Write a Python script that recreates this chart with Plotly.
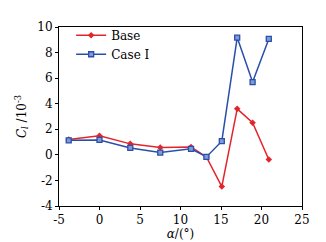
import plotly.graph_objects as go

alpha = [-3.8, 0, 3.8, 7.5, 11.3, 13.2, 15.1, 17.0, 18.9, 20.9]
base = [1.2, 1.5, 0.86, 0.57, 0.62, -0.16, -2.48, 3.6, 2.52, -0.36]
case1 = [1.14, 1.17, 0.54, 0.18, 0.47, -0.16, 1.07, 9.17, 5.69, 9.07]

xticks = [-5, 0, 5, 10, 15, 20, 25]
yticks = [-4, -2, 0, 2, 4, 6, 8, 10]

red = "#e3242b"
blue = "#2a4fa8"
font = "DejaVu Serif"

fig = go.Figure()
fig.add_trace(go.Scatter(x=alpha, y=base, mode="lines+markers", name="Base",
                         line=dict(color=red, width=1.5),
                         marker=dict(symbol="diamond", size=5, color=red)))
fig.add_trace(go.Scatter(x=alpha, y=case1, mode="lines+markers", name="Case I",
                         line=dict(color=blue, width=1.5),
                         marker=dict(symbol="square", size=5, color="#7f9ad8",
                                     line=dict(color=blue, width=1.3))))

axis_common = dict(showgrid=False, zeroline=False, showline=True, linecolor="black",
                   linewidth=1, mirror=True, ticks="outside", ticklen=3,
                   tickcolor="black", tickfont=dict(family=font, size=12, color="black"))
fig.update_xaxes(range=[-5, 25], tickvals=xticks, ticktext=[str(v) for v in xticks],
                 title=dict(text="<i>α</i>/(°)", font=dict(family=font, size=12, color="black"),
                            standoff=2), **axis_common)
fig.update_yaxes(range=[-4, 10], tickvals=yticks, ticktext=[str(v) for v in yticks],
                 title=dict(text="<i>C</i><sub><i>l</i></sub> /10<sup>-3</sup>",
                            font=dict(family=font, size=12, color="black"), standoff=8),
                 **axis_common)
fig.update_layout(width=326, height=242, margin=dict(l=51, r=32, t=13, b=36),
                  paper_bgcolor="white", plot_bgcolor="white",
                  font=dict(family=font, size=12, color="black"),
                  legend=dict(x=0.05, y=1.035, xanchor="left", yanchor="top",
                              bgcolor="rgba(0,0,0,0)", font=dict(family=font, size=12),
                              tracegroupgap=0, itemwidth=30))
fig.write_html("out.html")
